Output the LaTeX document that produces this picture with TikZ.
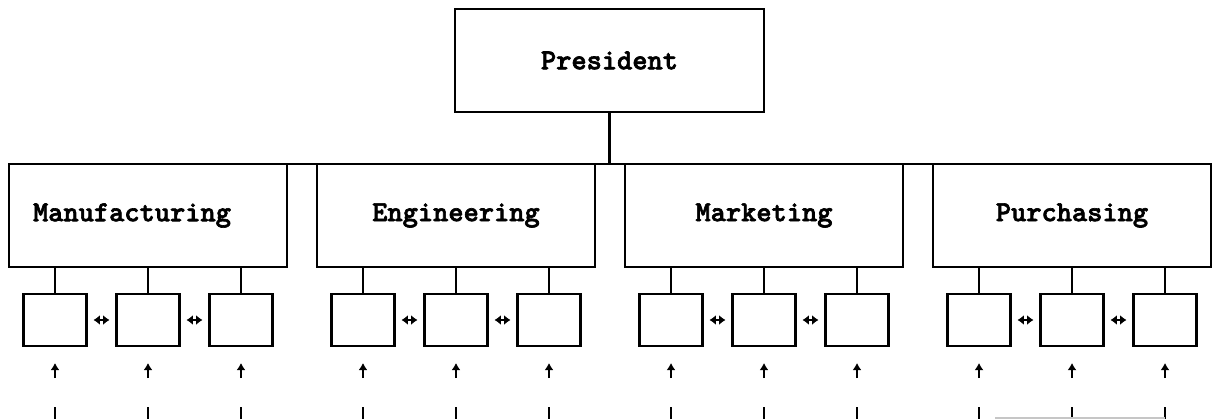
\documentclass[tikz,border=0pt]{standalone}
\usepackage{fontspec}
\newfontfamily\deptfont{lmmonolt10-bold.otf}[FakeBold=2.2]
\usetikzlibrary{positioning,arrows.meta}

\begin{document}
\begin{tikzpicture}[
        x=0.5pt, y=-0.5pt,
        box/.style={draw, line width=1.2pt, minimum width=139pt, minimum height=51.5pt, inner sep=0pt, outer sep=0pt,
            font=\deptfont\fontsize{14.5}{16}\selectfont},
        unit/.style={draw, line width=1.2pt, minimum width=31.5pt, minimum height=26pt, inner sep=0pt, outer sep=0pt},
        link/.style={line width=1.1pt},
        swap/.style={{Latex[length=3.2pt,width=5pt]}-{Latex[length=3.2pt,width=5pt]}, line width=1.2pt,
            shorten >=3.5pt, shorten <=3.5pt},
        up/.style={-{Latex[length=3.6pt,width=4.6pt]}, line width=1.1pt},
        node distance=15pt
    ]
    \useasboundingbox (0,0) rectangle (1212,419);
    \coordinate (base) at (0,419);

    % Top of the chart
    \node[box, minimum width=154.5pt] (pres) at (609.5,60.5) {President};

    % Departments
    \node[box] (mfg) at (148,215.5) {Manufacturing\hspace*{16pt}};
    \node[box, right=of mfg] (eng) {Engineering};
    \node[box, right=of eng] (mkt) {Marketing};
    \node[box, right=of mkt] (pur) {Purchasing};

    \draw[link] (mfg.north west) -- (pur.north east);
    \draw[link] (pres.south) -- (pres.south |- mfg.north);

    % Units under each department
    \foreach \d in {mfg,eng,mkt,pur}{
        \node[unit, below=13.5pt of \d] (\d-2) {};
        \node[unit, left=of \d-2] (\d-1) {};
        \node[unit, right=of \d-2] (\d-3) {};
        \draw[swap] (\d-1) -- (\d-2);
        \draw[swap] (\d-2) -- (\d-3);
        \foreach \i in {1,2,3}{
            \draw[link] (\d-\i.north) -- (\d-\i.north |- \d.south);
            \draw[up] ([yshift=-16pt]\d-\i.south) -- ([yshift=-8.5pt]\d-\i.south);
            \draw[link] ([yshift=-30.5pt]\d-\i.south) -- (\d-\i.south |- base);
        }
    }

    % faint line cut off at the bottom
    \draw[gray!45, line width=0.7pt] ([xshift=8pt,yshift=0.6pt]pur-1.south |- base) -- ([yshift=0.6pt]pur-3.south |- base);

\end{tikzpicture}
\end{document}
